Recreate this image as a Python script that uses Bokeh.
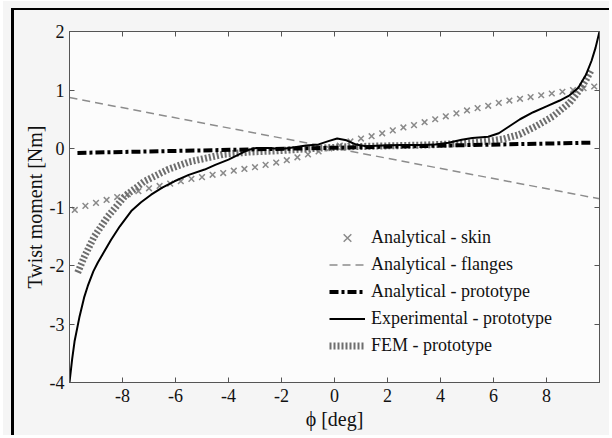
from bokeh.plotting import figure
from bokeh.models import LinearAxis, FixedTicker, Range1d, Legend, LegendItem
from bokeh.embed import file_html
from bokeh.resources import INLINE

# ---------------- data ----------------
x_ticks = [-8, -6, -4, -2, 0, 2, 4, 6, 8]
x_tick_labels = ["-8", "-6", "-4", "-2", "0", "2", "4", "6", "8"]
y_ticks = [-4, -3, -2, -1, 0, 1, 2]
y_tick_labels = ["-4", "-3", "-2", "-1", "0", "1", "2"]

skin_phi = [-9.8, -9.4, -9.0, -8.6, -8.2, -7.8, -7.4, -7.0, -6.6, -6.2, -5.8, -5.4, -5.0,
            -4.6, -4.2, -3.8, -3.4, -3.0, -2.6, -2.2, -1.8, -1.4, -1.0, -0.6, -0.2,
            0.2, 0.6, 1.0, 1.4, 1.8, 2.2, 2.6, 3.0, 3.4, 3.8, 4.2, 4.6, 5.0, 5.4,
            5.8, 6.2, 6.6, 7.0, 7.4, 7.8, 8.2, 8.6, 9.0, 9.4, 9.8]
skin_m = [-1.05, -0.98, -0.93, -0.88, -0.83, -0.78, -0.73, -0.68, -0.64, -0.60, -0.56, -0.52, -0.49,
          -0.45, -0.42, -0.38, -0.35, -0.32, -0.28, -0.24, -0.20, -0.15, -0.10, -0.05, 0.00,
          0.05, 0.12, 0.17, 0.21, 0.26, 0.31, 0.36, 0.40, 0.45, 0.50, 0.55, 0.60, 0.65, 0.69,
          0.73, 0.78, 0.82, 0.85, 0.88, 0.91, 0.94, 0.97, 1.00, 1.03, 1.06]

flanges_phi = [-10.0, 10.0]
flanges_m = [0.87, -0.86]

proto_phi = [-9.7, 9.7]
proto_m = [-0.075, 0.10]

exp_phi = [-10.0, -9.9, -9.81, -9.62, -9.45, -9.31, -9.1, -8.93, -8.7, -8.43, -8.1, -7.67,
           -7.3, -6.92, -6.5, -6.04, -5.5, -4.9, -4.5, -4.0, -3.6, -3.3, -2.95, -2.5, -2.0,
           -1.5, -1.07, -0.6, -0.2, 0.1, 0.45, 0.8, 1.2, 1.8, 2.5, 3.2, 3.8, 4.3, 4.8, 5.2,
           5.8, 6.2, 6.6, 7.0, 7.5, 8.0, 8.5, 8.87, 9.2, 9.5, 9.7, 9.85, 10.0]
exp_m = [-4.0, -3.6, -3.3, -2.87, -2.55, -2.35, -2.1, -1.95, -1.77, -1.56, -1.33, -1.07,
         -0.92, -0.79, -0.67, -0.56, -0.45, -0.36, -0.28, -0.19, -0.10, -0.03, 0.01, 0.01, -0.01,
         0.02, 0.05, 0.07, 0.13, 0.17, 0.14, 0.07, 0.04, 0.05, 0.06, 0.06, 0.07, 0.10, 0.15, 0.18,
         0.20, 0.26, 0.38, 0.50, 0.62, 0.72, 0.82, 0.91, 1.04, 1.27, 1.50, 1.72, 2.0]

fem_phi = [-9.69, -9.43, -9.06, -8.55, -7.92, -7.17, -6.29, -5.5, -4.9, -4.2, -3.2, -2.2,
           -1.2, -0.4, 0.5, 1.5, 2.5, 3.5, 4.5, 5.3, 5.9, 6.35, 6.98, 7.6, 8.24, 8.87, 9.25,
           9.5, 9.7]
fem_m = [-2.12, -1.84, -1.50, -1.16, -0.82, -0.56, -0.36, -0.23, -0.17, -0.10, -0.06, -0.04,
         -0.01, 0.01, 0.03, 0.04, 0.05, 0.06, 0.08, 0.10, 0.13, 0.16, 0.24, 0.38, 0.55, 0.78, 1.0,
         1.18, 1.35]

labels = ["Analytical - skin", "Analytical - flanges", "Analytical - prototype",
          "Experimental - prototype", "FEM - prototype"]

FONT = "Liberation Serif"
TXT = "#111111"

p = figure(width=606, height=434, x_range=Range1d(-10, 10), y_range=Range1d(-4, 2),
           output_backend="svg", toolbar_location=None,
           min_border_left=64, min_border_right=12, min_border_top=28, min_border_bottom=55,
           background_fill_color="#fcfcfc", border_fill_color=None)
p.styles = {"margin-left": "3px", "margin-top": "1px",
            "border-left": "2px solid transparent", "border-top": "2px solid transparent",
            "background": "linear-gradient(#000,#000) 6px 5px / 3px 100% no-repeat, "
                          "linear-gradient(#000,#000) 6px 5px / 100% 2px no-repeat, #f5f5f5"}
p.grid.visible = False
p.outline_line_color = "#555555"

bottom = p.xaxis[0]
left = p.yaxis[0]

bottom.ticker = FixedTicker(ticks=x_ticks)
bottom.major_label_overrides = dict(zip(x_ticks, x_tick_labels))
bottom.axis_label = "ϕ [deg]"
left.ticker = FixedTicker(ticks=y_ticks)
left.major_label_overrides = dict(zip(y_ticks, y_tick_labels))
left.axis_label = "Twist moment [Nm]"

top = LinearAxis(ticker=FixedTicker(ticks=x_ticks),
                 major_label_overrides={t: "" for t in x_ticks},
                 major_label_standoff=0, major_label_text_font_size="1px")
right = LinearAxis(ticker=FixedTicker(ticks=y_ticks),
                   major_label_overrides={t: "" for t in y_ticks},
                   major_label_standoff=0, major_label_text_font_size="1px")
p.add_layout(top, "above")
p.add_layout(right, "right")

for ax in [bottom, left, top, right]:
    ax.major_tick_in = 5
    ax.major_tick_out = 0
    ax.minor_tick_line_color = None
    ax.axis_line_color = "#555555"
    ax.major_tick_line_color = "#555555"

for ax in [bottom, left]:
    ax.major_label_text_font = FONT
    ax.major_label_text_font_size = "18px"
    ax.major_label_text_color = TXT
    ax.axis_label_text_font = FONT
    ax.axis_label_text_font_style = "normal"
    ax.axis_label_text_font_size = "20px"
    ax.axis_label_text_color = TXT

bottom.major_label_standoff = 6
bottom.axis_label_standoff = 3
left.major_label_standoff = 5
left.axis_label_standoff = 1

# glyphs
r_fl = p.line(flanges_phi, flanges_m, line_color="#8c8c8c", line_width=1.5, line_dash="8 5")
r_skin = p.scatter(skin_phi, skin_m, marker="x", size=8, line_color="#8a8a8a", line_width=1.5)
r_fem = p.line(fem_phi, fem_m, line_color="#6e6e6e", line_width=7, line_dash="2 2")
r_ap = p.line(proto_phi, proto_m, line_color="black", line_width=4, line_dash="9 3 3 3")
r_exp = p.line(exp_phi, exp_m, line_color="black", line_width=2)

legend = Legend(items=[LegendItem(label=labels[0], renderers=[r_skin]),
                       LegendItem(label=labels[1], renderers=[r_fl]),
                       LegendItem(label=labels[2], renderers=[r_ap]),
                       LegendItem(label=labels[3], renderers=[r_exp]),
                       LegendItem(label=labels[4], renderers=[r_fem])],
                location=(260, 23), glyph_width=36, glyph_height=27, label_height=27,
                spacing=0, padding=0, margin=0, border_line_color=None,
                background_fill_alpha=0, label_text_font=FONT, label_text_font_size="18px",
                label_standoff=6, label_text_color=TXT)
p.add_layout(legend)

open("out.html", "w").write(file_html(p, INLINE))
